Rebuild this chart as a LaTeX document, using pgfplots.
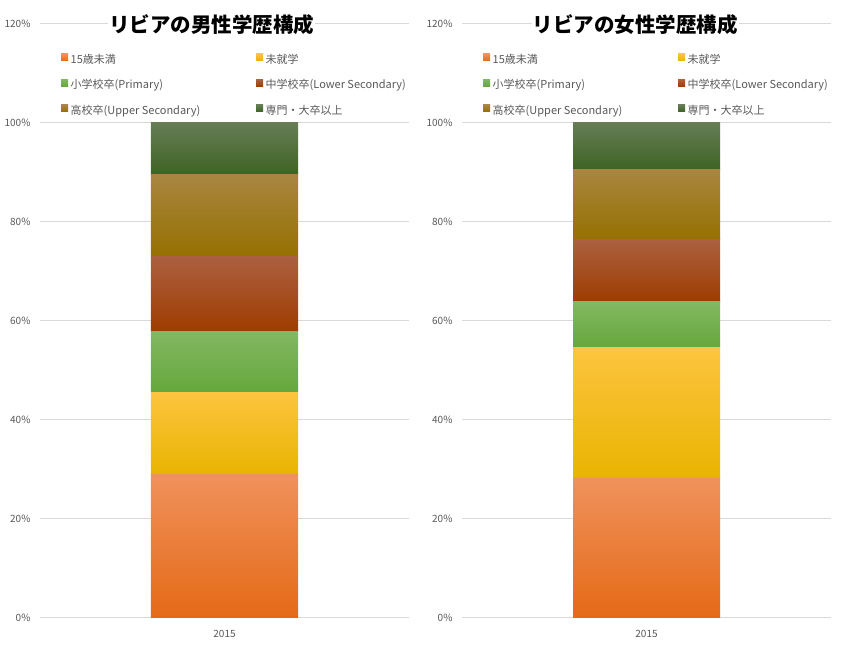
\documentclass[border=0pt]{standalone}
\usepackage{fontspec}
\setmainfont{Noto Sans CJK JP}
\usepackage{pgfplots}
\pgfplotsset{compat=1.18}

\definecolor{gridc}{HTML}{D9D9D9}
\definecolor{labc}{HTML}{595959}
\definecolor{o1}{HTML}{F0915C}\definecolor{o2}{HTML}{F47D30}\definecolor{o3}{HTML}{E46A16}\definecolor{oL}{HTML}{ED7D31}
\definecolor{y1}{HTML}{FDC43F}\definecolor{y2}{HTML}{FFC000}\definecolor{y3}{HTML}{E9B400}\definecolor{yL}{HTML}{FFC000}
\definecolor{g1}{HTML}{82B862}\definecolor{g2}{HTML}{70AE43}\definecolor{g3}{HTML}{66A73C}\definecolor{gL}{HTML}{70AD47}
\definecolor{r1}{HTML}{AC6040}\definecolor{r2}{HTML}{A5440A}\definecolor{r3}{HTML}{9E3C00}\definecolor{rL}{HTML}{9E480E}
\definecolor{b1}{HTML}{A88640}\definecolor{b2}{HTML}{A07A00}\definecolor{b3}{HTML}{967000}\definecolor{bL}{HTML}{997300}
\definecolor{d1}{HTML}{667D55}\definecolor{d2}{HTML}{4A6B2E}\definecolor{d3}{HTML}{3E6423}\definecolor{dL}{HTML}{43682B}

\pgfplotsset{
 edu/.style={
  scale only axis, width=369bp, height=594bp,
  ymin=0, ymax=120, ytick={0,20,...,120},
  xmin=-1.25, xmax=1.25, xtick={0}, xticklabels={2015},
  ybar stacked, bar width=147bp,
  ymajorgrids, grid style={draw=gridc, line width=0.75bp},
  axis line style={draw=none}, major tick length=0pt,
  yticklabel={\pgfmathprintnumber{\tick}\%},
  /pgf/number format/assume math mode=true,
  tick label style={font=\fontsize{10bp}{12bp}\selectfont, text=labc},
  yticklabel style={xshift=-6bp},
  xticklabel style={yshift=-9bp},
  legend columns=2, legend cell align=left,
  legend style={draw=none, fill=none, inner sep=0pt, at={(0.057,0.949)}, anchor=north west,
    row sep=13bp, font=\fontsize{11bp}{13bp}\selectfont,
    nodes={inner xsep=2.5bp, inner ysep=0pt, text height=9bp, text depth=3bp, text=labc}},
  title style={anchor=center, yshift=-7bp, font=\fontsize{20.5bp}{24bp}\selectfont\bfseries, fill=white, inner sep=1bp},
  clip=false,
 },
 seg/.style n args={4}{draw=none, top color=#1, middle color=#2, bottom color=#3,
   legend image code/.code={\fill[#4] (0bp,-0.6bp) rectangle (7bp,6.4bp);}},
}

\begin{document}
\begin{tikzpicture}
\useasboundingbox (0,0) rectangle (845bp,648bp);
\fill[white] (0,0) rectangle (845bp,648bp);

\begin{axis}[edu, at={(40bp,30.5bp)}, anchor=south west,
  title={リビアの男性学歴構成}, title style={at={(0.466,1)}}]
\addplot[seg={o1}{o2}{o3}{oL}] coordinates {(0,28.9)};
\addlegendentry{\makebox[183bp][l]{15歳未満}}
\addplot[seg={y1}{y2}{y3}{yL}] coordinates {(0,16.6)};
\addlegendentry{未就学}
\addplot[seg={g1}{g2}{g3}{gL}] coordinates {(0,12.3)};
\addlegendentry{\makebox[183bp][l]{小学校卒(Primary)}}
\addplot[seg={r1}{r2}{r3}{rL}] coordinates {(0,15.1)};
\addlegendentry{中学校卒(Lower Secondary)}
\addplot[seg={b1}{b2}{b3}{bL}] coordinates {(0,16.6)};
\addlegendentry{\makebox[183bp][l]{高校卒(Upper Secondary)}}
\addplot[seg={d1}{d2}{d3}{dL}] coordinates {(0,10.5)};
\addlegendentry{専門・大卒以上}
\end{axis}

\begin{axis}[edu, at={(462bp,30.5bp)}, anchor=south west,
  title={リビアの女性学歴構成}, title style={at={(0.469,1)}}]
\addplot[seg={o1}{o2}{o3}{oL}] coordinates {(0,28.0)};
\addlegendentry{\makebox[183bp][l]{15歳未満}}
\addplot[seg={y1}{y2}{y3}{yL}] coordinates {(0,26.5)};
\addlegendentry{未就学}
\addplot[seg={g1}{g2}{g3}{gL}] coordinates {(0,9.3)};
\addlegendentry{\makebox[183bp][l]{小学校卒(Primary)}}
\addplot[seg={r1}{r2}{r3}{rL}] coordinates {(0,12.5)};
\addlegendentry{中学校卒(Lower Secondary)}
\addplot[seg={b1}{b2}{b3}{bL}] coordinates {(0,14.2)};
\addlegendentry{\makebox[183bp][l]{高校卒(Upper Secondary)}}
\addplot[seg={d1}{d2}{d3}{dL}] coordinates {(0,9.5)};
\addlegendentry{専門・大卒以上}
\end{axis}
\end{tikzpicture}
\end{document}
